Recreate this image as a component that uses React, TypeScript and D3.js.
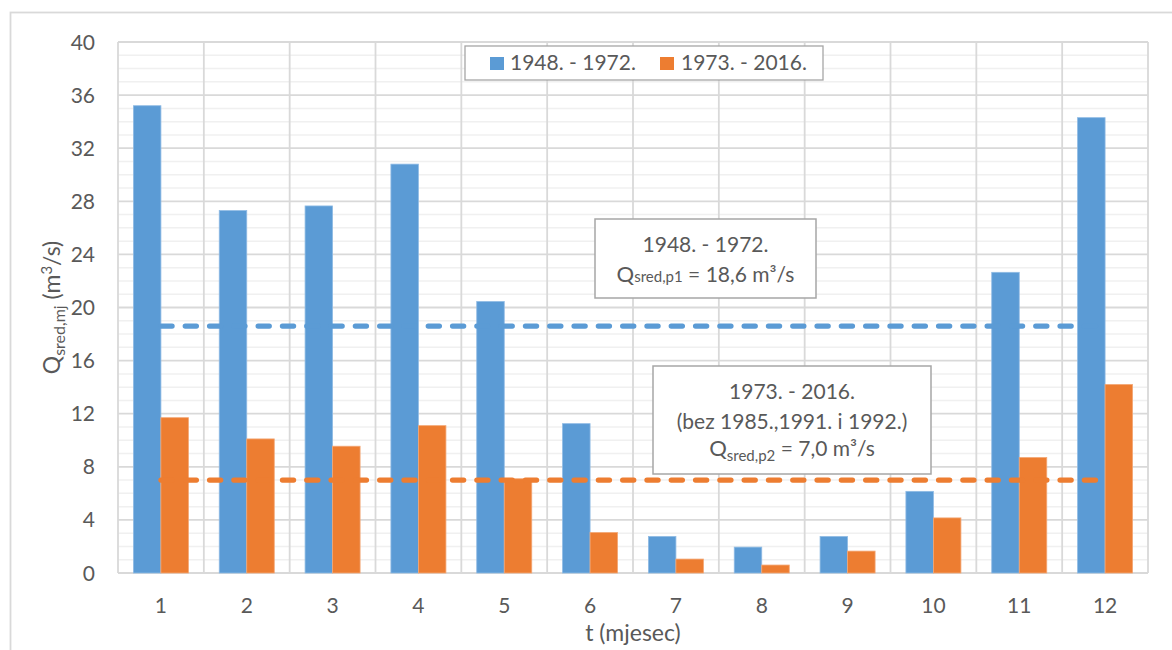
import React from "react";
import * as d3 from "d3";

const months = ["1", "2", "3", "4", "5", "6", "7", "8", "9", "10", "11", "12"];
const series1Label = "1948. - 1972.";
const series2Label = "1973. - 2016.";
const series1 = [35.2, 27.3, 27.65, 30.8, 20.45, 11.25, 2.75, 1.95, 2.75, 6.15, 22.65, 34.3];
const series2 = [11.7, 10.1, 9.55, 11.1, 7.1, 3.05, 1.05, 0.6, 1.65, 4.15, 8.7, 14.2];
const mean1 = 18.6;
const mean2 = 7.0;
const yTicks = [0, 4, 8, 12, 16, 20, 24, 28, 32, 36, 40];

const BLUE = "#5B9BD5";
const ORANGE = "#ED7D31";
const TXT = "#595959";
const FONT = "Lato, 'Open Sans', sans-serif";

export default function App() {
  const W = 1172, H = 650;
  const left = 118, right = 1148, top = 42, bottom = 573;
  const x = d3.scaleBand<string>().domain(months).range([left, right]).paddingInner(0).paddingOuter(0);
  const x1 = d3.scaleBand<string>().domain(["a", "b"]).range([0, x.step()]).paddingInner(0).paddingOuter(0.56);
  const y = d3.scaleLinear().domain([0, 40]).range([bottom, top]);
  const minor = d3.range(0, 41, 1).filter((v) => v % 4 !== 0);
  const cx = (m: string) => (x(m) as number) + x.bandwidth() / 2;
  const line = d3.line<number>().x((_, i) => cx(months[i])).y((v) => y(v));

  return (
    <svg width={W} height={H} style={{ position: "absolute", left: 0, top: 0, background: "#fff" }} fontFamily={FONT}>
      <rect x={0} y={0} width={W} height={H} fill="#fff" />
      <rect x={10.5} y={12.5} width={1300} height={800} fill="none" stroke="#d9d9d9" strokeWidth={1.8} />
      {minor.map((v) => (
        <line key={"mn" + v} x1={left} x2={right} y1={y(v)} y2={y(v)} stroke="#f0f0f0" strokeWidth={1.5} />
      ))}
      {yTicks.map((v) => (
        <line key={"mj" + v} x1={left} x2={right} y1={y(v)} y2={y(v)} stroke="#d9d9d9" strokeWidth={1.8} />
      ))}
      {months.map((m) => (
        <line key={"v" + m} x1={x(m)} x2={x(m)} y1={top} y2={bottom} stroke="#d9d9d9" strokeWidth={1.8} />
      ))}
      <line x1={right} x2={right} y1={top} y2={bottom} stroke="#d9d9d9" strokeWidth={1.8} />
      {months.map((m, i) => (
        <g key={"b" + m} transform={`translate(${x(m)},0)`}>
          <rect x={x1("a")} y={y(series1[i])} width={x1.bandwidth()} height={bottom - y(series1[i])} fill={BLUE} stroke="#8fbbe4" strokeWidth={0.8} />
          <rect x={x1("b")} y={y(series2[i])} width={x1.bandwidth()} height={bottom - y(series2[i])} fill={ORANGE} stroke="#f3a775" strokeWidth={0.8} />
        </g>
      ))}
      <path d={line(months.map(() => mean1)) || ""} fill="none" stroke={BLUE} strokeWidth={5.2} strokeDasharray="11.2 13.1" strokeLinecap="round" />
      <path d={line(months.map(() => mean2)) || ""} fill="none" stroke={ORANGE} strokeWidth={5.2} strokeDasharray="11.2 13.1" strokeLinecap="round" />
      {yTicks.map((v) => (
        <text key={"yt" + v} x={95} y={y(v) + 7.5} textAnchor="end" fontSize={21} fill={TXT}>{v}</text>
      ))}
      {months.map((m) => (
        <text key={"xt" + m} x={cx(m)} y={613} textAnchor="middle" fontSize={21} fill={TXT}>{m}</text>
      ))}
      <text x={(left + right) / 2} y={641} textAnchor="middle" fontSize={23} fill={TXT}>t (mjesec)</text>
      <text transform={`translate(60,${(top + bottom) / 2}) rotate(-90)`} textAnchor="middle" fontSize={23} fill={TXT}>
        <tspan>Q</tspan>
        <tspan fontSize={16} dy={5}>sred,mj</tspan>
        <tspan dy={-5}> (m</tspan>
        <tspan fontSize={15} dy={-8}>3</tspan>
        <tspan dy={8}>/s)</tspan>
      </text>
      <rect x={465} y={46} width={358} height={34} fill="#fff" stroke="#a6a6a6" strokeWidth={1.3} />
      <rect x={490} y={57} width={14} height={13} fill={BLUE} />
      <text x={510} y={70} fontSize={21} fill={TXT}>{series1Label}</text>
      <rect x={660} y={57} width={14} height={13} fill={ORANGE} />
      <text x={681} y={70} fontSize={21} fill={TXT}>{series2Label}</text>
      <rect x={595} y={219} width={221} height={79} fill="#fff" stroke="#a6a6a6" strokeWidth={1.5} />
      <text x={705.5} y={252} textAnchor="middle" fontSize={21} fill={TXT}>1948. - 1972.</text>
      <text x={705.5} y={282} textAnchor="middle" fontSize={21} fill={TXT}>
        <tspan fontSize={22}>Q</tspan>
        <tspan fontSize={15}>sred,p1</tspan>
        <tspan> = 18,6 m³/s</tspan>
      </text>
      <rect x={653} y={366} width={278} height={108} fill="#fff" stroke="#a6a6a6" strokeWidth={1.5} />
      <text x={792} y={399} textAnchor="middle" fontSize={21} fill={TXT}>1973. - 2016.</text>
      <text x={792} y={429} textAnchor="middle" fontSize={21} fill={TXT}>(bez 1985.,1991. i 1992.)</text>
      <text x={792} y={456} textAnchor="middle" fontSize={21} fill={TXT}>
        <tspan fontSize={22}>Q</tspan>
        <tspan fontSize={15} dy={5}>sred,p2</tspan>
        <tspan dy={-5}> = 7,0 m³/s</tspan>
      </text>
    </svg>
  );
}
